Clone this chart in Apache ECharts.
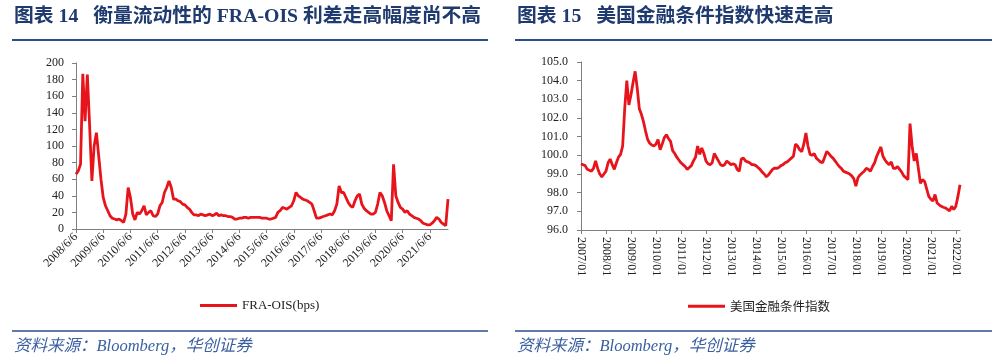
<!DOCTYPE html>
<html>
<head>
<meta charset="utf-8">
<script src="https://cdn.jsdelivr.net/npm/echarts@6/dist/echarts.min.js"></script>
<style>
html,body{margin:0;padding:0;background:#fff;}
#c{width:1000px;height:364px;}
</style>
</head>
<body>
<div id="c"></div>
<script>
// ---------- Data ----------
const leftTitle = '图表 14   衡量流动性的 FRA-OIS 利差走高幅度尚不高';
const rightTitle = '图表 15   美国金融条件指数快速走高';
const sourceText = '资料来源：Bloomberg，华创证券';
const leftSeriesName = 'FRA-OIS(bps)';
const rightSeriesName = '美国金融条件指数';

// monthly categories, 2008/6/6 .. 2022/2/6
const leftCategories = [];
for (let i = 0; i < 165; i++) {
  const t = 2008 * 12 + 5 + i;
  leftCategories.push(Math.floor(t / 12) + '/' + (t % 12 + 1) + '/6');
}
const fraOis = [
  66,70,78,187,130,186,125,58,100,116,88,60,38,28,22,16,13,12,11,12,
  10,8,18,50,38,18,11,20,18,22,28,17,20,22,16,15,18,28,32,44,
  50,58,50,36,36,34,33,30,29,26,24,20,17,17,16,18,17,16,17,18,
  16,17,19,16,17,16,16,15,15,14,12,12,13,13,14,14,13,14,14,14,
  14,14,13,13,13,12,12,13,14,20,22,26,25,24,26,28,34,44,40,38,
  36,35,34,32,30,22,13,13,14,15,16,17,18,17,22,30,52,44,44,38,
  32,28,26,34,40,42,30,25,22,20,18,18,20,30,44,40,32,22,16,10,
  78,40,32,26,24,20,22,18,16,14,13,12,10,7,6,5,5,7,10,14,
  12,8,6,4,36
];
const leftYTicks = {min: 0, max: 200, interval: 20};

// monthly categories, 2007/01 .. 2022/03
const rightCategories = [];
for (let i = 0; i < 183; i++) {
  const t = 2007 * 12 + i;
  const m = t % 12 + 1;
  rightCategories.push(Math.floor(t / 12) + '/' + (m < 10 ? '0' + m : m));
}
const fci = [
  99.55,99.5,99.45,99.25,99.2,99.15,99.3,99.7,99.3,99.0,98.85,99.0,99.15,99.6,99.8,99.5,99.25,99.6,99.9,100.05,
  100.5,102.5,104.0,102.7,103.25,103.9,104.5,103.6,102.5,102.2,101.8,101.3,100.85,100.65,100.55,100.5,100.6,100.85,100.3,100.6,
  100.95,101.1,100.9,100.75,100.25,100.1,99.9,99.75,99.6,99.5,99.4,99.25,99.35,99.45,99.7,99.9,100.5,100.05,100.4,100.1,
  99.7,99.55,99.5,99.6,100.1,99.9,99.7,99.5,99.45,99.5,99.7,99.6,99.5,99.55,99.5,99.25,99.15,99.8,99.85,99.7,
  99.65,99.6,99.5,99.5,99.45,99.35,99.25,99.1,99.0,98.85,98.95,99.1,99.25,99.32,99.3,99.35,99.45,99.5,99.6,99.65,
  99.75,99.85,99.95,100.6,100.5,100.3,100.2,100.6,101.2,100.5,100.05,100.0,100.1,99.85,99.75,99.65,99.6,99.9,100.2,100.1,
  99.95,99.85,99.7,99.55,99.4,99.3,99.15,99.1,99.05,99.0,98.9,98.75,98.35,98.8,98.95,99.05,99.15,99.3,99.25,99.15,
  99.4,99.6,99.95,100.2,100.45,99.95,99.75,99.6,99.5,99.65,99.3,99.3,99.4,99.25,99.1,98.9,98.8,98.7,101.7,100.5,
  99.7,100.1,99.3,98.5,98.7,98.6,98.2,97.8,97.65,97.55,97.9,97.45,97.35,97.27,97.22,97.18,97.1,97.02,97.27,97.1,
  97.27,97.8,98.43
];
const rightYTicks = {min: 96, max: 105, interval: 1};

// ---------- Styles ----------
const RED = '#E8141C';
const NAVY = '#1F3A6E';
const RULE = '#2B4F8E';
const SRC = '#3A5FA0';
const AX = '#7F7F7F';
const SERIF = "'Liberation Serif','Times New Roman',serif";
const TITLEFONT = "'Liberation Serif','Noto Sans CJK SC',serif";

const chart = echarts.init(document.getElementById('c'), null, {renderer: 'canvas'});

function titleGraphic(x, text) {
  return {type: 'text', left: x, top: 7, style: {text: text, fill: NAVY, font: 'bold 19.8px ' + TITLEFONT}};
}
function rule(x1, x2, y, w, c) {
  return {type: 'line', shape: {x1: x1, y1: y, x2: x2, y2: y}, style: {stroke: c, lineWidth: w}};
}
function source(x) {
  return {type: 'text', left: x, top: 338, style: {text: sourceText, fill: SRC, font: 'italic 16.5px ' + TITLEFONT}};
}

const commonAxisLine = {show: true, lineStyle: {color: AX, width: 1}};

chart.setOption({
  animation: false,
  backgroundColor: '#fff',
  graphic: [
    titleGraphic(14, leftTitle),
    titleGraphic(517, rightTitle),
    rule(12, 488, 40, 2, RULE),
    rule(515, 992, 40, 2, RULE),
    rule(12, 488, 331, 1.5, RULE),
    rule(515, 992, 331, 1.5, RULE),
    source(14),
    source(517)
  ],
  legend: [
    {data: [leftSeriesName], left: 195, top: 294, icon: 'rect', itemWidth: 37, itemHeight: 3,
     textStyle: {fontFamily: SERIF, fontSize: 13, color: '#222'}},
    {data: [rightSeriesName], left: 683, top: 295, icon: 'rect', itemWidth: 37, itemHeight: 3,
     textStyle: {fontFamily: "'Noto Sans CJK SC',sans-serif", fontSize: 12.5, color: '#222'}}
  ],
  grid: [
    {left: 76, right: 552, top: 63, bottom: 135},
    {left: 581, right: 40, top: 62, bottom: 134}
  ],
  xAxis: [
    {type: 'category', gridIndex: 0, data: leftCategories, boundaryGap: false,
     axisLine: commonAxisLine,
     axisTick: {show: true, interval: 11, length: 4, lineStyle: {color: AX}},
     axisLabel: {interval: 11, rotate: 45, margin: 6, fontFamily: SERIF, fontSize: 12, color: '#222'},
     splitLine: {show: false}},
    {type: 'category', gridIndex: 1, data: rightCategories, boundaryGap: false,
     axisLine: commonAxisLine,
     axisTick: {show: true, interval: 11, length: 4, lineStyle: {color: AX}},
     axisLabel: {interval: 11, rotate: -90, margin: 7, fontFamily: SERIF, fontSize: 12, color: '#222'},
     splitLine: {show: false}}
  ],
  yAxis: [
    {type: 'value', gridIndex: 0, min: leftYTicks.min, max: leftYTicks.max, interval: leftYTicks.interval,
     axisLine: commonAxisLine,
     axisTick: {show: true, length: 4, lineStyle: {color: AX}},
     axisLabel: {margin: 12, fontFamily: SERIF, fontSize: 12, color: '#222'},
     splitLine: {show: false}},
    {type: 'value', gridIndex: 1, min: rightYTicks.min, max: rightYTicks.max, interval: rightYTicks.interval,
     axisLine: commonAxisLine,
     axisTick: {show: true, length: 4, lineStyle: {color: AX}},
     axisLabel: {margin: 13, fontFamily: SERIF, fontSize: 12, color: '#222',
                 formatter: v => v.toFixed(1)},
     splitLine: {show: false}}
  ],
  series: [
    {name: leftSeriesName, type: 'line', xAxisIndex: 0, yAxisIndex: 0, data: fraOis,
     showSymbol: false, symbol: 'none', lineStyle: {color: RED, width: 2.8}, itemStyle: {color: RED}},
    {name: rightSeriesName, type: 'line', xAxisIndex: 1, yAxisIndex: 1, data: fci,
     showSymbol: false, symbol: 'none', lineStyle: {color: RED, width: 2.8}, itemStyle: {color: RED}}
  ]
});
</script>
</body>
</html>
